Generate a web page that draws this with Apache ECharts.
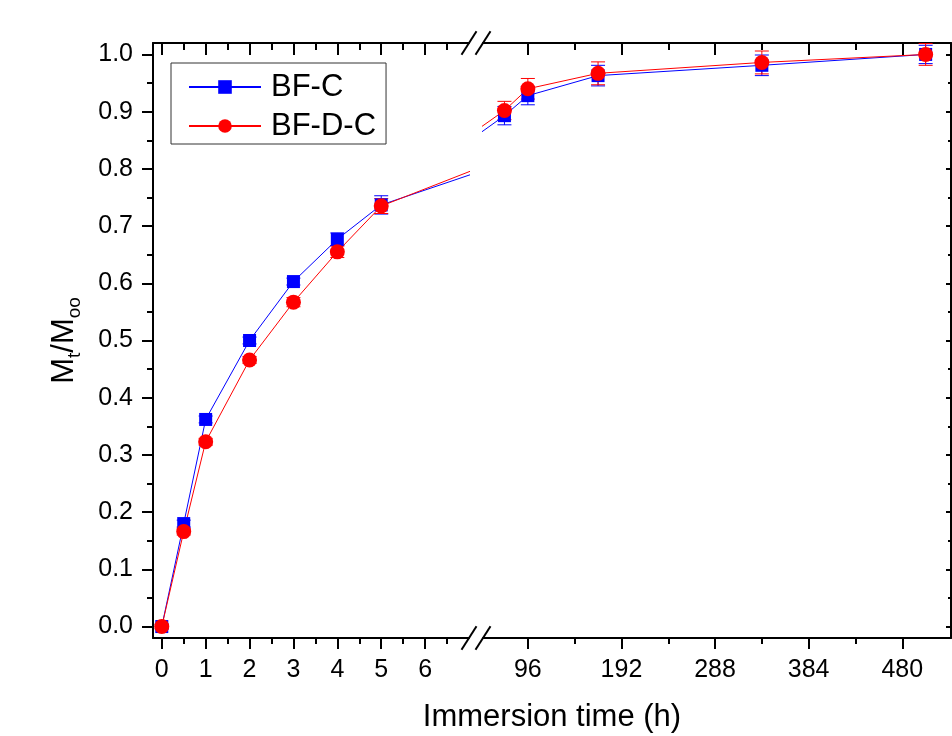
<!DOCTYPE html>
<html>
<head>
<meta charset="utf-8">
<script src="https://cdn.jsdelivr.net/npm/echarts@6/dist/echarts.min.js"></script>
<style>
  html, body { margin: 0; padding: 0; background: #ffffff; }
  #chart { width: 952px; height: 736px; }
</style>
</head>
<body>
<div id="chart"></div>
<script>
// Immersion times (h). The 8 h reading lies inside the axis break, so only its line shows.
const hours   = [0, 0.5, 1, 2, 3, 4, 5, 8, 72, 96, 168, 336, 504];
const bfC     = [0, 0.180, 0.362, 0.500, 0.603, 0.677, 0.737, 0.815, 0.893, 0.928, 0.963, 0.981, 1.000];
const bfCErr  = [0.004, 0.006, 0.006, 0.006, 0.006, 0.011, 0.016, 0, 0.016, 0.016, 0.018, 0.018, 0.016];
const bfDC    = [0, 0.166, 0.323, 0.466, 0.567, 0.655, 0.735, 0.825, 0.902, 0.940, 0.967, 0.986, 1.000];
const bfDCErr = [0.004, 0.006, 0.006, 0.006, 0.008, 0.010, 0.013, 0, 0.016, 0.018, 0.020, 0.020, 0.019];

// Tick positions for the two halves of the broken time axis and for the fraction axis
const shortTicks = [0, 1, 2, 3, 4, 5, 6];
const shortMinor = [0.5, 1.5, 2.5, 3.5, 4.5, 5.5, 6.5];
const longTicks  = [96, 192, 288, 384, 480];
const longMinor  = [144, 240, 336, 432];
const yTicks = [0, 0.1, 0.2, 0.3, 0.4, 0.5, 0.6, 0.7, 0.8, 0.9, 1.0];
const yMinor = [0.05, 0.15, 0.25, 0.35, 0.45, 0.55, 0.65, 0.75, 0.85, 0.95];

const seriesNames = ['BF-C', 'BF-D-C'];
const xTitle = 'Immersion time (h)';

// Frame layout (pixels)
const FRAME = { top: 43, bottom: 638, left: 153, breakL: 469, breakR: 483, right: 951 };
const SHORT_RANGE = [-0.2, 7];
const LONG_RANGE = [50, 530];
const Y_RANGE = [-0.02, 1.02];

const FONT = '"Liberation Sans", Arial, Helvetica, sans-serif';
const TICK_FONT = 25;
const BLACK = '#000000';
const BLUE = '#0000ff';
const RED = '#ff0000';

function xAxisDef(grid, pos, range, ticks, len, inside, labels, line) {
  return {
    type: 'value', gridIndex: grid, position: pos, min: range[0], max: range[1],
    axisLine: { show: line, onZero: false, lineStyle: { color: BLACK, width: 2 } },
    axisTick: { show: true, inside: inside, length: len, customValues: ticks,
                lineStyle: { color: BLACK, width: 2 } },
    axisLabel: { show: labels, customValues: ticks, margin: 20, color: BLACK,
                 fontSize: TICK_FONT, fontFamily: FONT },
    splitLine: { show: false }, minorTick: { show: false }, axisPointer: { show: false }
  };
}

function yAxisDef(grid, pos, ticks, len, inside, labels, line) {
  return {
    type: 'value', gridIndex: grid, position: pos, min: Y_RANGE[0], max: Y_RANGE[1],
    axisLine: { show: line, onZero: false, lineStyle: { color: BLACK, width: 2 } },
    axisTick: { show: true, inside: inside, length: len, customValues: ticks,
                lineStyle: { color: BLACK, width: 2 } },
    axisLabel: { show: labels, customValues: ticks, margin: 20, color: BLACK,
                 fontSize: TICK_FONT, fontFamily: FONT, formatter: v => Number(v).toFixed(1) },
    splitLine: { show: false }, minorTick: { show: false }, axisPointer: { show: false }
  };
}

function points(values) {
  return hours.map((h, i) => [h, values[i]]);
}
function errPoints(values, errs) {
  return hours.map((h, i) => [h, values[i], errs[i]]);
}

// Vertical error bars with caps, skipped outside the visible part of the axis
function errorBar(color) {
  return function (params, api) {
    const x = api.value(0), y = api.value(1), e = api.value(2);
    if (!e) return null;
    const c = api.coord([x, y]);
    const cs = params.coordSys;
    if (c[0] < cs.x - 0.5 || c[0] > cs.x + cs.width + 0.5) return null;
    const hi = api.coord([x, y + e])[1];
    const lo = api.coord([x, y - e])[1];
    const hw = 7;
    const st = { stroke: color, lineWidth: 1 };
    return {
      type: 'group',
      children: [
        { type: 'line', shape: { x1: c[0], y1: hi, x2: c[0], y2: lo }, style: st },
        { type: 'line', shape: { x1: c[0] - hw, y1: hi, x2: c[0] + hw, y2: hi }, style: st },
        { type: 'line', shape: { x1: c[0] - hw, y1: lo, x2: c[0] + hw, y2: lo }, style: st }
      ]
    };
  };
}

function lineSeries(name, values, color, symbol, size, xi, yi) {
  return {
    type: 'line', name: name, xAxisIndex: xi, yAxisIndex: yi, data: points(values),
    symbol: symbol, symbolSize: size, showSymbol: true, clip: true,
    lineStyle: { color: color, width: 1 }, itemStyle: { color: color, borderWidth: 0 },
    emphasis: { disabled: true }, z: 3
  };
}
function errSeries(name, values, errs, color, xi, yi) {
  return {
    type: 'custom', name: name, xAxisIndex: xi, yAxisIndex: yi,
    data: errPoints(values, errs), encode: { x: 0, y: 1 },
    renderItem: errorBar(color), silent: true, z: 3
  };
}

// Break marks "//" drawn where each half of the time axis ends
function breakMarks() {
  const out = [];
  [FRAME.top, FRAME.bottom].forEach(y => {
    [FRAME.breakL, FRAME.breakR].forEach(x => {
      out.push({
        type: 'line', silent: true, z: 10,
        shape: { x1: x - 7.5, y1: y + 11.7, x2: x + 7.5, y2: y - 11.7 },
        style: { stroke: BLACK, lineWidth: 2 }
      });
    });
  });
  return out;
}

const chart = echarts.init(document.getElementById('chart'), null, { renderer: 'canvas' });

const option = {
  animation: false,
  backgroundColor: '#ffffff',
  grid: [
    { left: FRAME.left, top: FRAME.top, width: FRAME.breakL - FRAME.left,
      height: FRAME.bottom - FRAME.top, containLabel: false, outerBoundsMode: 'none' },
    { left: FRAME.breakR, top: FRAME.top, width: FRAME.right - FRAME.breakR,
      height: FRAME.bottom - FRAME.top, containLabel: false, outerBoundsMode: 'none' }
  ],
  xAxis: [
    xAxisDef(0, 'bottom', SHORT_RANGE, shortTicks, 11, false, true, true),
    xAxisDef(0, 'bottom', SHORT_RANGE, shortMinor, 6, false, false, false),
    xAxisDef(0, 'top', SHORT_RANGE, shortTicks, 12, true, false, true),
    xAxisDef(0, 'top', SHORT_RANGE, shortMinor, 7, true, false, false),
    xAxisDef(1, 'bottom', LONG_RANGE, longTicks, 11, false, true, true),
    xAxisDef(1, 'bottom', LONG_RANGE, longMinor, 6, false, false, false),
    xAxisDef(1, 'top', LONG_RANGE, longTicks, 12, true, false, true),
    xAxisDef(1, 'top', LONG_RANGE, longMinor, 7, true, false, false)
  ],
  yAxis: [
    yAxisDef(0, 'left', yTicks, 11, false, true, true),
    yAxisDef(0, 'left', yMinor, 6, false, false, false),
    yAxisDef(1, 'right', yTicks, 5, true, false, true),
    yAxisDef(1, 'right', yMinor, 3, true, false, false)
  ],
  legend: {
    data: seriesNames, orient: 'vertical', left: 171, top: 63,
    itemWidth: 72, itemHeight: 17, itemGap: 7, padding: [8, 10, 2, 17],
    borderColor: '#333333', borderWidth: 1, borderRadius: 0, backgroundColor: '#ffffff',
    selectedMode: false,
    textStyle: { fontFamily: FONT, fontSize: 31, color: BLACK, lineHeight: 32, padding: [0, 0, 0, 5] }
  },
  series: [
    lineSeries(seriesNames[0], bfC, BLUE, 'rect', 13, 0, 0),
    errSeries('BF-C error', bfC, bfCErr, BLUE, 0, 0),
    lineSeries(seriesNames[0], bfC, BLUE, 'rect', 13, 4, 2),
    errSeries('BF-C error', bfC, bfCErr, BLUE, 4, 2),
    lineSeries(seriesNames[1], bfDC, RED, 'circle', 15, 0, 0),
    errSeries('BF-D-C error', bfDC, bfDCErr, RED, 0, 0),
    lineSeries(seriesNames[1], bfDC, RED, 'circle', 15, 4, 2),
    errSeries('BF-D-C error', bfDC, bfDCErr, RED, 4, 2)
  ],
  graphic: breakMarks().concat([
    {
      type: 'text', x: (FRAME.left + FRAME.right) / 2, y: 717, silent: true,
      style: { text: xTitle, fontSize: 31, fontFamily: FONT, fill: BLACK,
               align: 'center', verticalAlign: 'middle', textAlign: 'center', textVerticalAlign: 'middle' }
    },
    {
      type: 'text', x: 64, y: (FRAME.top + FRAME.bottom) / 2, rotation: Math.PI / 2, silent: true,
      style: {
        text: '{m|M}{s|t}{m|/M}{s|oo}',
        align: 'center', verticalAlign: 'middle', textAlign: 'center', textVerticalAlign: 'middle',
        fill: BLACK,
        rich: {
          m: { fontSize: 31, fontFamily: FONT, lineHeight: 40, fill: BLACK, color: BLACK },
          s: { fontSize: 19, fontFamily: FONT, lineHeight: 16, verticalAlign: 'bottom', fill: BLACK, color: BLACK }
        }
      }
    }
  ])
};

chart.setOption(option);
</script>
</body>
</html>
